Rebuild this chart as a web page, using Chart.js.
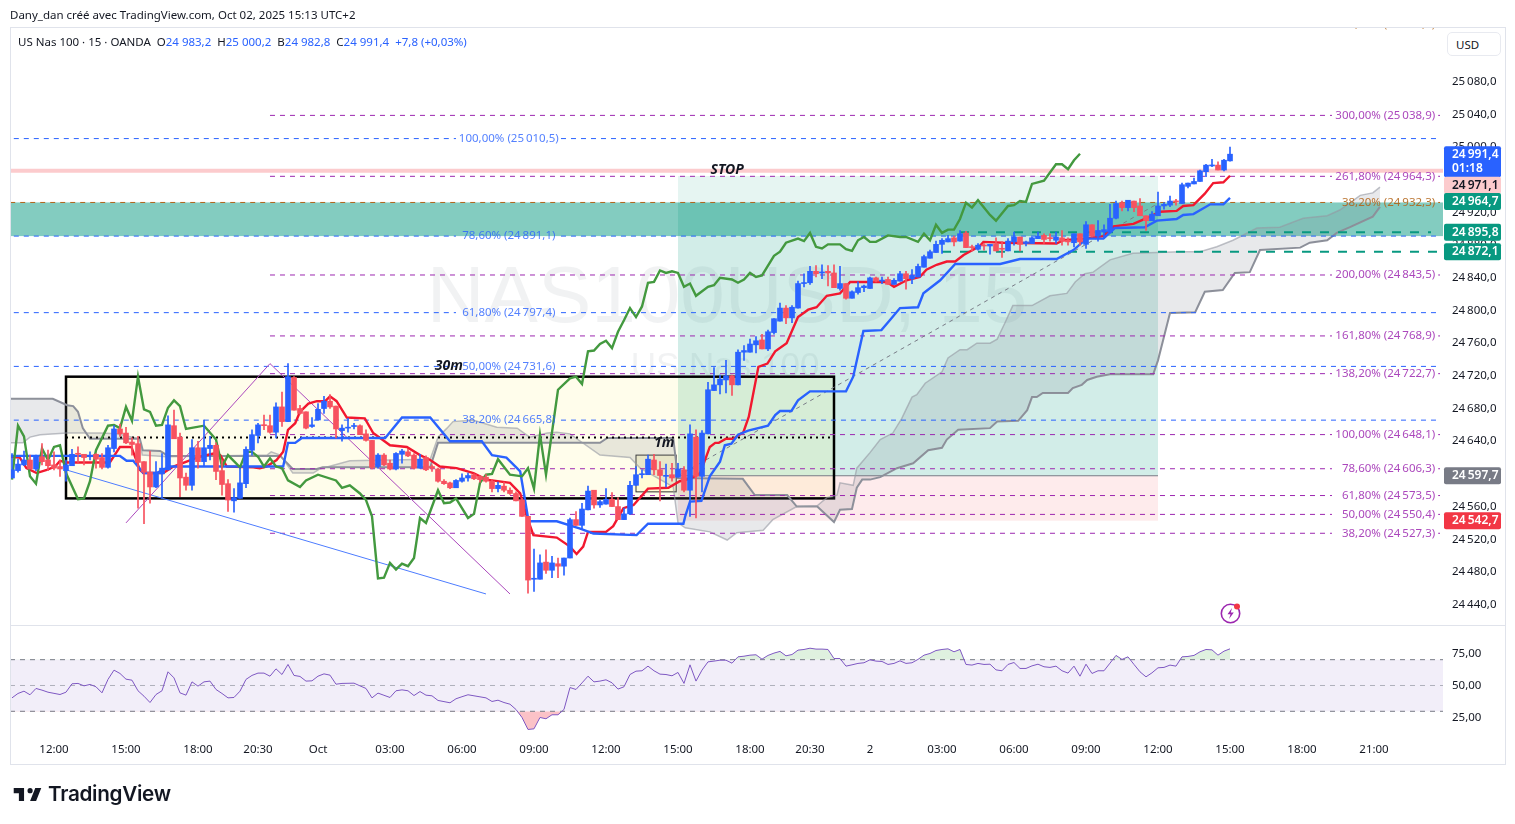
<!DOCTYPE html>
<html>
<head>
<meta charset="utf-8">
<title>US Nas 100</title>
<script src="https://cdn.jsdelivr.net/npm/chart.js@4/dist/chart.umd.min.js"></script>
<style>
body { margin: 0; background: #fff; font-family: "Noto Sans", sans-serif; color: #131722; }
#page { position: relative; width: 1515px; height: 824px; overflow: hidden; }
canvas { position: absolute; left: 0; }
#frame { position: absolute; left: 10px; top: 27px; width: 1494px; height: 736px; border: 1px solid #e0e3eb; }
#divider { position: absolute; left: 10px; top: 625px; width: 1495px; height: 1px; background: #e0e3eb; }
.txt { position: absolute; white-space: nowrap; font-size: 11.5px; }
.blue { color: #2962ff; }
#usd { position: absolute; left: 1447px; top: 32px; width: 54px; height: 24px; border: 1px solid #e8eaf0; border-radius: 5px; box-sizing: border-box; font-size: 11.5px; line-height: 23px; padding-left: 8px; background: #fff; }
#brand { position: absolute; left: 48px; top: 781px; font: 600 20.7px Inter, sans-serif; color: #131722; letter-spacing: -0.3px; }
</style>
</head>
<body>
<div id="page">
  <canvas id="main" width="1515" height="625" style="top:0"></canvas>
  <canvas id="rsi" width="1515" height="199" style="top:625px"></canvas>
  <div id="frame"></div>
  <div id="divider"></div>
  <div class="txt" style="left:10px;top:7px">Dany_dan créé avec TradingView.com, Oct 02, 2025 15:13 UTC+2</div>
  <div class="txt" style="left:18px;top:34px">US Nas 100 · 15 · OANDA &nbsp;O<span class="blue">24 983,2</span> &nbsp;H<span class="blue">25 000,2</span> &nbsp;B<span class="blue">24 982,8</span> &nbsp;C<span class="blue">24 991,4</span> &nbsp;<span class="blue">+7,8 (+0,03%)</span></div>
  <div id="usd">USD</div>
  <svg style="position:absolute;left:12px;top:785px" width="31" height="20" viewBox="0 4 36 20"><path fill="#131722" d="M14 6H2v6h6v9h6V6zm14 15h-7l6-15h7l-6 15zm-7-9a3 3 0 1 0 0-6 3 3 0 0 0 0 6z"/></svg>
  <div id="brand">TradingView</div>
  <svg style="position:absolute;left:1219px;top:601px" width="24" height="24" viewBox="0 0 24 24">
    <circle cx="11.5" cy="12.5" r="9.2" fill="none" stroke="#9c27b0" stroke-width="1.6"/>
    <path d="M13 7l-4.5 6.2h3L10 18l4.8-6.4h-3z" fill="#9c27b0"/>
    <circle cx="18" cy="5.5" r="3" fill="#f23645"/>
  </svg>
</div>
<script>
// 15 min candles, index 0 = first bar on the left
const opens = [
  24595,24604,24611,24617,24606,24621,24617,24611,24609,24604,
  24610,24625,24624,24621,24624,24620,24608,24631,24655,24650,
  24639,24637,24615,24602,24584,24600,24605,24659,24645,24596,
  24586,24632,24615,24631,24635,24604,24588,24567,24570,24588,
  24629,24647,24660,24659,24651,24682,24664,24718,24680,24676,
  24658,24666,24680,24689,24683,24653,24656,24658,24659,24649,
  24641,24609,24623,24613,24606,24624,24627,24623,24607,24620,
  24609,24606,24591,24589,24583,24591,24595,24599,24597,24596,
  24591,24582,24585,24580,24576,24568,24548,24471,24471,24492,
  24482,24490,24487,24497,24544,24537,24556,24580,24562,24563,
  24569,24560,24544,24551,24586,24599,24599,24617,24605,24597,
  24599,24596,24605,24580,24645,24597,24649,24702,24709,24715,
  24720,24709,24749,24749,24758,24764,24753,24773,24787,24803,
  24791,24803,24833,24834,24848,24846,24848,24846,24827,24833,
  24815,24822,24828,24827,24840,24836,24838,24832,24836,24845,
  24839,24841,24853,24864,24871,24881,24884,24889,24885,24895,
  24878,24875,24880,24879,24881,24876,24873,24884,24890,24882,
  24882,24888,24892,24889,24886,24889,24886,24883,24894,24881,
  24905,24891,24896,24896,24913,24932,24926,24934,24928,24916,
  24910,24916,24928,24929,24934,24931,24952,24955,24958,24970,
  24977,24978,24972,24983.2
];
const closes = [
  24605,24612,24617,24606,24622,24615,24610,24607,24606,24611,
  24624,24624,24620,24622,24618,24608,24632,24655,24649,24638,
  24636,24614,24602,24584,24601,24607,24660,24643,24595,24586,
  24632,24615,24632,24635,24603,24587,24568,24571,24589,24630,
  24648,24660,24659,24651,24682,24664,24719,24678,24674,24656,
  24660,24679,24689,24682,24655,24656,24657,24659,24648,24641,
  24608,24623,24611,24606,24625,24628,24622,24607,24618,24605,
  24607,24591,24588,24583,24592,24595,24598,24594,24593,24591,
  24582,24586,24580,24576,24567,24548,24470,24472,24491,24482,
  24491,24487,24497,24544,24537,24557,24579,24562,24566,24569,
  24560,24544,24551,24586,24599,24600,24618,24605,24598,24598,
  24595,24606,24580,24649,24597,24650,24703,24709,24716,24720,
  24709,24749,24751,24759,24763,24753,24774,24790,24803,24791,
  24804,24833,24834,24848,24845,24847,24846,24828,24833,24815,
  24823,24828,24830,24840,24836,24837,24832,24837,24845,24839,
  24843,24854,24866,24872,24881,24886,24888,24884,24894,24877,
  24877,24880,24879,24881,24873,24875,24885,24890,24881,24884,
  24889,24891,24887,24888,24890,24885,24884,24894,24884,24905,
  24891,24898,24899,24913,24931,24926,24935,24926,24916,24910,
  24918,24928,24930,24934,24933,24954,24956,24958,24971,24978,
  24978,24972,24984,24991.4
];
const highs = [
  24625,24618,24628,24623,24623,24637,24629,24627,24617,24617,
  24630,24633,24624,24627,24625,24625,24635,24659,24661,24657,
  24644,24646,24615,24628,24615,24625,24671,24678,24650,24601,
  24642,24640,24666,24646,24638,24617,24593,24582,24607,24633,
  24654,24662,24672,24672,24687,24700,24735,24719,24684,24676,
  24669,24686,24695,24697,24683,24660,24668,24662,24660,24654,
  24641,24625,24625,24617,24626,24630,24630,24625,24624,24622,
  24611,24607,24593,24590,24593,24600,24601,24600,24598,24599,
  24593,24590,24590,24583,24578,24570,24548,24508,24501,24507,
  24499,24497,24497,24546,24554,24564,24585,24580,24568,24582,
  24577,24571,24558,24591,24609,24605,24623,24624,24615,24612,
  24613,24613,24609,24660,24654,24653,24712,24730,24721,24739,
  24721,24752,24757,24765,24768,24771,24776,24790,24809,24806,
  24806,24836,24845,24854,24855,24856,24855,24856,24854,24833,
  24824,24835,24831,24841,24841,24841,24841,24839,24848,24848,
  24850,24857,24868,24874,24885,24888,24892,24891,24898,24897,
  24880,24882,24882,24881,24889,24884,24888,24896,24890,24885,
  24890,24896,24894,24894,24896,24898,24889,24894,24894,24909,
  24905,24910,24905,24930,24934,24934,24935,24934,24937,24916,
  24921,24945,24932,24940,24936,24956,24956,24962,24972,24979,
  24985,24982,24985,25000.2
];
const lows = [
  24595,24602,24610,24606,24604,24611,24604,24605,24597,24591,
  24610,24614,24611,24617,24607,24606,24607,24627,24646,24637,
  24623,24558,24539,24564,24583,24570,24605,24643,24572,24580,
  24580,24607,24610,24617,24593,24574,24554,24553,24570,24583,
  24623,24638,24654,24650,24644,24658,24664,24678,24673,24655,
  24657,24666,24674,24680,24644,24640,24651,24655,24648,24640,
  24606,24607,24610,24605,24605,24613,24621,24606,24607,24604,
  24603,24590,24587,24582,24583,24590,24591,24593,24590,24590,
  24578,24578,24578,24575,24567,24548,24454,24456,24471,24478,
  24473,24473,24476,24497,24537,24533,24556,24558,24559,24563,
  24560,24544,24544,24550,24586,24595,24599,24599,24567,24584,
  24591,24596,24578,24548,24546,24578,24649,24702,24698,24699,
  24696,24709,24739,24749,24748,24753,24751,24771,24787,24784,
  24785,24803,24829,24832,24841,24839,24830,24828,24825,24814,
  24815,24820,24823,24827,24835,24833,24832,24832,24836,24826,
  24833,24841,24853,24864,24871,24870,24884,24879,24885,24877,
  24873,24874,24874,24869,24873,24865,24873,24880,24873,24879,
  24882,24888,24882,24885,24882,24880,24880,24878,24880,24876,
  24890,24885,24888,24896,24912,24922,24922,24921,24916,24898,
  24910,24916,24924,24927,24929,24931,24950,24955,24958,24964,
  24976,24972,24971,24982.8
];

// ichimoku lines, read at the corners only: [bar, price]
const tenkan = [[-0.3,24621],[1.3,24620],[2.4,24607],[4.1,24601],[5.8,24605],[7.2,24609],[8,24616],[9.1,24614],[16.3,24614],[18,24633],[19.9,24633],[21.3,24605],[21.9,24601],[25.2,24601],[26.9,24609],[31.3,24621],[33.6,24625],[34.7,24623],[35.8,24609],[40.2,24608],[41.3,24607],[42.4,24609],[44.1,24617],[45.2,24627],[46,24654],[47.2,24662],[48,24676],[49.4,24686],[50.8,24689],[52.2,24689],[53,24695],[54.1,24689],[55.8,24669],[58.8,24668],[60.2,24650],[63,24635],[65.8,24633],[68,24623],[69.7,24617],[71.3,24609],[74.1,24607],[76.9,24601],[79.1,24593],[83,24589],[84.7,24576],[85.8,24548],[86.9,24525],[90.8,24522],[93,24511],[94.1,24502],[95.2,24511],[96,24529],[99,24529],[100.2,24536],[101.9,24558],[103.6,24562],[106,24582],[109.4,24583],[111.3,24591],[113,24594],[114.7,24601],[116.3,24633],[117.2,24638],[117.8,24638],[119,24643],[120.2,24643],[121.9,24651],[122.8,24670],[124.4,24731],[125.9,24735],[127.2,24750],[129.1,24760],[131,24792],[132.7,24801],[134.1,24804],[135.8,24818],[138,24821],[139.7,24835],[145.8,24835],[147,24829],[149.1,24837],[151.3,24841],[152.4,24850],[154.1,24856],[155.8,24860],[157.2,24860],[158.6,24868],[161.3,24879],[161.9,24884],[165.2,24883],[174.1,24882],[175.2,24886],[178.6,24888],[182,24891],[183.6,24903],[186.9,24906],[189.1,24913],[191.3,24921],[194.1,24922],[195.2,24928],[196.9,24929],[198.8,24943],[200.2,24956],[201.9,24957],[203,24965]];
const kijun = [[-0.3,24622],[18,24622],[19.1,24616],[20.2,24616],[21.9,24601],[24.1,24601],[26.3,24609],[45.2,24609],[46,24638],[47.2,24638],[48.3,24644],[62.2,24644],[65,24669],[69.7,24669],[73,24640],[78.3,24640],[80,24623],[82.4,24620],[84.7,24603],[86.1,24542],[90.8,24542],[94.7,24533],[96.9,24527],[104.1,24525],[106,24539],[111.9,24539],[112.2,24548],[113,24566],[114.9,24567],[116.3,24597],[118,24615],[118.8,24635],[119.9,24637],[121,24648],[122.7,24653],[126,24659],[127.2,24672],[128,24677],[129.9,24677],[131,24690],[133,24701],[139,24701],[140.2,24719],[141.9,24775],[144.9,24776],[146.3,24788],[148,24803],[151,24804],[151.9,24821],[154.7,24837],[157.2,24857],[164.7,24857],[168,24863],[174.1,24863],[176.9,24874],[179.1,24888],[181.9,24888],[183.8,24901],[188.8,24902],[190.8,24910],[194.1,24912],[195.2,24917],[196.9,24918],[199.7,24930],[201.9,24930],[203,24938]];
const chikou = [[0,24593],[1,24659],[2,24646],[3,24597],[4,24588],[5,24631],[6,24617],[7,24633],[8,24635],[9,24601],[11,24569],[12,24570],[13,24591],[14,24629],[16,24659],[17,24660],[18,24656],[19,24682],[20,24665],[21,24719],[22,24679],[23,24676],[24,24659],[25,24660],[26,24681],[27,24690],[28,24683],[29,24655],[32,24659],[34,24642],[35,24609],[36,24623],[38,24608],[39,24627],[40,24627],[41,24621],[42,24609],[43,24619],[44,24609],[45,24607],[46,24592],[48,24584],[49,24592],[51,24599],[54,24592],[55,24583],[56.3,24586],[58,24576],[59,24568],[60,24548],[61,24472],[62,24473],[63,24491],[64,24483],[65,24490],[66,24487],[67,24497],[68,24546],[69,24540],[71,24580],[72,24564],[73,24565],[74,24570],[76,24546],[77,24551],[78,24589],[79,24599],[80,24600],[81,24618],[83,24599],[85,24597],[86,24607],[87,24582],[88,24648],[89,24599],[91,24703],[93,24717],[94,24719],[95,24710],[96,24750],[97,24751],[98,24759],[99,24763],[100,24754],[101,24774],[102,24788],[103,24803],[104,24792],[105,24805],[106,24834],[107,24835],[108,24849],[109,24846],[110,24848],[111,24846],[112,24829],[113,24833],[114,24818],[116,24829],[117,24831],[118,24840],[120,24838],[121,24834],[122,24838],[123,24846],[124,24841],[125,24843],[127,24867],[128,24872],[129,24883],[131,24888],[132,24885],[133,24895],[134,24878],[135,24876],[136,24881],[138,24881],[139,24875],[140,24873],[141,24886],[142,24890],[143,24884],[144,24884],[146,24892],[148,24890],[149,24890],[151,24884],[152,24894],[153,24886],[154,24905],[155,24895],[156,24899],[157,24899],[158,24912],[159,24932],[160,24926],[161,24935],[163,24917],[164,24910],[166,24928],[167,24929],[168,24934],[169,24933],[170,24955],[172,24959],[174,24979],[175,24979],[176,24973],[177,24984],[178,24992]];
const spanA = [[-0.3,24638],[1.8,24638],[3,24645],[4.7,24648],[9.2,24650],[14.7,24650],[17.5,24649],[21.3,24643],[21.7,24623],[25.8,24621],[42.5,24623],[43.2,24627],[44.7,24623],[46.8,24601],[50.2,24601],[51.3,24606],[56.3,24616],[69.7,24618],[71,24645],[72.5,24656],[73.5,24664],[76.8,24666],[80.8,24657],[84.2,24656],[86.3,24645],[89.2,24650],[90.8,24651],[93,24649],[98,24623],[103,24620],[104.7,24607],[110.2,24584],[111,24540],[112.2,24534],[116.3,24529],[119.2,24519],[120.8,24528],[125.2,24531],[126.8,24544],[130.8,24560],[134.2,24561],[135.8,24571],[137.5,24574],[138,24589],[140.2,24586],[140.8,24607],[143,24626],[144.7,24642],[146.8,24650],[148.3,24668],[150,24694],[150.8,24697],[152.2,24711],[155,24725],[156,24742],[158,24752],[159.2,24752],[160.8,24760],[163,24760],[164.2,24765],[165.5,24785],[166.8,24806],[170,24806],[173,24818],[175.8,24821],[177.2,24835],[178.8,24845],[180.2,24847],[183,24862],[186.8,24870],[194.7,24872],[198,24872],[200.8,24878],[203.5,24886],[207.5,24901],[211.3,24902],[215.2,24913],[219.2,24916],[221.3,24923],[224.7,24941],[226.8,24944],[228,24951]];
const spanB = [[-0.3,24692],[6.8,24692],[9.2,24684],[10.2,24683],[11,24676],[11.8,24656],[13,24643],[21.3,24643],[21.8,24629],[24.7,24628],[26,24622],[44.7,24622],[46.8,24606],[50.8,24606],[51.8,24608],[69.7,24608],[71,24638],[98,24638],[99.2,24644],[110.2,24644],[111,24595],[121.8,24594],[123.8,24574],[129.2,24574],[130.8,24560],[134.2,24560],[137,24541],[138,24556],[140,24557],[140.8,24583],[141.7,24593],[143,24593],[144.7,24596],[147.5,24607],[150.2,24613],[152.7,24629],[155,24632],[155.8,24642],[157.7,24654],[163,24656],[164.2,24664],[167.7,24665],[169.2,24678],[170,24694],[170.8,24694],[171.8,24699],[176,24699],[176.8,24705],[178.3,24709],[179.2,24715],[180.8,24719],[183,24722],[190.2,24722],[191,24739],[193,24797],[197.2,24798],[198.8,24823],[201.8,24825],[203.8,24846],[206.3,24847],[208,24874],[214.7,24877],[216.3,24883],[219.2,24886],[220.8,24895],[223,24902],[226.8,24915],[228,24927]];

// fib retracements, levels and prices
const purpleLevels = [300, 261.8, 200, 161.8, 138.2, 100, 78.6, 61.8, 50, 38.2];
const purplePrices = [25038.9, 24964.3, 24843.5, 24768.9, 24722.7, 24648.1, 24606.3, 24573.5, 24550.4, 24527.3];
const blueLevels = [100, 78.6, 61.8, 50, 38.2];
const bluePrices = [25010.5, 24891.1, 24797.4, 24731.6, 24665.8];
const orangeLevels = [38.2];
const orangePrices = [24932.3];

const priceTicks = [24440,24480,24520,24560,24600,24640,24680,24720,24760,24800,24840,24880,24920,24960,25000,25040,25080];
const rsiValues = [
  40.4,43.8,45.6,42.8,47.7,46.4,44.8,43.9,43,44.8,
  51.3,51.6,49.7,50.8,49,44.3,54.7,61.9,59.3,54.9,
  54.1,45.9,41.7,36.8,43,45.9,60.6,55.9,44.3,42.5,
  52.8,49.5,52.8,53.4,46.9,43.8,40.4,40.7,45.6,54.7,
  57.8,59.6,59.6,57.2,62.9,58.5,66.3,57.8,57,53.4,
  53.6,57.2,59,58,51,51.6,51.7,51.8,49.7,47.7,
  40.4,44.1,42.4,40.7,45.9,46.6,45.9,42.2,45.3,42.5,
  42,38.4,37.5,36.6,39.7,41.3,42.8,42,41.2,40.4,
  37.6,38.6,36.8,35.5,31.4,25.2,15.9,16.4,25.2,24.2,
  27.3,27.3,31.4,48.4,46.9,52,57.2,52.8,53.4,54.4,
  52.1,47.2,49,58.5,61.1,61.4,65,61.4,58.8,58.5,
  57.5,60.1,51.6,66,53.4,61.9,68.3,68.9,69.6,69.6,
  67.3,72.2,72.7,73.5,73.8,70.4,73.3,75.1,76.4,73,
  74,77.4,77.9,78.9,78.2,78.2,77.9,70.9,70.9,65,
  66,67.1,67.6,69.9,68.9,68.6,66.3,67.1,69.1,67.1,
  67.6,70.2,73.5,74.8,77.1,77.9,78.4,76.1,77.9,66.3,
  65.8,67.1,66.3,66.5,62.1,61.4,66.3,67.8,63.2,63.2,
  65.2,66.5,64.5,64,65,61.4,59.6,65,57.2,66.5,
  59.3,61.4,61.4,67.3,73.3,70.2,72.2,66.3,60.6,56.7,
  59.8,63.7,64,65.8,65,72.2,72.5,73.3,76.1,77.9,
  77.6,73.5,76.6,78.4
];
const rsiTicks = [25, 50, 75];
const timeTickBars = [7,19,31,41,51,63,75,87,99,111,123,133,143,155,167,179,191,203,215,227];
const timeTickLabels = ['12:00','15:00','18:00','20:30','Oct','03:00','06:00','09:00','12:00','15:00','18:00','20:30','2','03:00','06:00','09:00','12:00','15:00','18:00','21:00'];

const FONT = '"Noto Sans", sans-serif';
const UP = '#2962ff', DOWN = '#f7525f', PURPLE = '#9c27b0', BLUE = '#2962ff', ORANGE = '#b2651a', TEAL = '#089981';
const X_MIN = -0.333, X_MAX = 238.5;
const fibPurpleStart = 43, fibBlueStart = 0.3, fibEnd = 238, gapStart = 220, gapEnd = 237.7;
const noGrid = { display: false, drawTicks: false };

const price = v => {
  const s = v.toFixed(1).replace('.', ',');
  return s.slice(0, 2) + '\u2009' + s.slice(2);
};
const pct = v => v.toFixed(2).replace('.', ',') + '%';
const pts = list => list.map(p => ({ x: p[0], y: p[1] }));
const noPadding = s => { s.paddingTop = s.paddingBottom = s.paddingLeft = s.paddingRight = 0; };
const line = (data, color, width, extra) => Object.assign({
  type: 'line', data, borderColor: color, borderWidth: width, pointRadius: 0,
  tension: 0, fill: false, order: 3
}, extra);
// dashed level, broken where its label sits
const level = (y, from, to, a, b, color) => line([
  { x: from, y }, { x: a, y }, { x: a, y: NaN }, { x: b, y: NaN }, { x: b, y }, { x: to, y }
], color, 1, { borderDash: [5, 5], order: 5 });

const bars = opens.map((o, i) => i);
const candleColor = bars.map(i => closes[i] >= opens[i] ? UP : DOWN);

const datasets = [
  line(pts(spanA), 'rgba(149,152,161,0.6)', 1.5, { fill: '+1', backgroundColor: 'rgba(120,123,134,0.17)', order: 6 }),
  line(pts(spanB), '#8f929c', 2, { order: 6 })
];
purplePrices.forEach(p => datasets.push(level(p, fibPurpleStart, fibEnd, gapStart, gapEnd, PURPLE)));
bluePrices.forEach(p => datasets.push(level(p, fibBlueStart, fibEnd, 74, 91.5, BLUE)));
orangePrices.forEach(p => datasets.push(level(p, -0.3, fibEnd, gapStart, gapEnd, ORANGE)));
datasets.push(
  line(pts([[-0.333, 24971.1], [X_MAX, 24971.1]]), '#fccbcd', 4, { order: 7 }),
  line(pts([[158, 24895.8], [236.5, 24895.8]]), TEAL, 2, { borderDash: [9, 9], order: 4 }),
  line(pts([[155, 24872.1], [X_MAX, 24872.1]]), TEAL, 2, { borderDash: [9, 9], order: 4 }),
  line(pts([[9, 24644.5], [137, 24644.5]]), '#000', 2, { borderDash: [2, 4], order: 4 }),
  line(pts([[111, 24597.7], [191, 24931]]), '#787b86', 1, { borderDash: [4, 4], order: 4 }),
  line(pts([[19, 24540], [43, 24735], [83, 24453]]), '#ab47bc', 1, { order: 4 }),
  line(pts([[9, 24605], [79, 24453]]), '#4d7cff', 1, { order: 4 }),
  line(pts(chikou), '#43993f', 2.4, { order: 3 }),
  line(pts(kijun), '#2962ff', 2.4, { order: 3 }),
  line(pts(tenkan), '#f2182f', 2.4, { order: 3 }),
  { type: 'bar', data: bars.map(i => ({ x: i, y: [lows[i], highs[i]] })), backgroundColor: candleColor, barThickness: 1, order: 2 },
  { type: 'bar', data: bars.map(i => ({ x: i, y: [Math.min(opens[i], closes[i]), Math.max(opens[i], closes[i])] })), backgroundColor: candleColor, barThickness: 5, minBarLength: 1, order: 1 }
);

// shaded zones: [from bar, to bar, price a, price b, colour]
const zones = [
  [111, 191, 24964.7, 24932.3, 'rgba(8,153,129,0.10)'],
  [111, 191, 24932.3, 24597.7, 'rgba(8,153,129,0.18)'],
  [111, 191, 24597.7, 24542.7, 'rgba(242,54,69,0.10)'],
  [9, 137, 24719, 24570, 'rgba(255,235,59,0.10)'],
  [104, 110.7, 24623, 24578, 'rgba(255,235,59,0.12)'],
  [X_MIN, X_MAX, 24932.3, 24891.1, 'rgba(8,153,129,0.5)']
];
// outlined boxes: [from bar, to bar, price a, price b, colour, width]
const boxes = [
  [9, 137, 24719, 24570, '#000', 2.5],
  [104, 110.7, 24623, 24578, '#333', 1]
];
const notes = [
  [72.8, 24732.5, '30m', '#131722', 'italic bold 14px ' + FONT, 'center'],
  [108.7, 24638, '1m', '#131722', 'italic bold 14px ' + FONT, 'center'],
  [119.2, 24972, 'STOP', '#131722', 'italic bold 14px ' + FONT, 'center']
];
// axis tags: price, text, background, text colour, pixel shift to avoid overlap
const tags = [
  [24971.1, '24\u2009971,1', '#fccbcd', '#131722', 14.5],
  [24964.7, '24\u2009964,7', TEAL, '#fff', 25.5],
  [24895.8, '24\u2009895,8', TEAL, '#fff', 0],
  [24872.1, '24\u2009872,1', TEAL, '#fff', 0],
  [24597.7, '24\u2009597,7', '#787b86', '#fff', 0],
  [24542.7, '24\u2009542,7', '#f23645', '#fff', 0]
];

const mainPlugin = {
  id: 'mainPlugin',
  beforeDatasetsDraw(chart) {
    const { ctx, scales: { x, y }, chartArea: a } = chart;
    ctx.save();
    ctx.textAlign = 'center';
    ctx.textBaseline = 'middle';
    ctx.fillStyle = 'rgba(120,123,134,0.10)';
    ctx.font = '80px "Liberation Sans"';
    ctx.fillText('NAS100USD, 15', 727, 300);
    ctx.font = '35px "Liberation Sans"';
    ctx.fillText('US Nas 100', 725, 367);
    zones.forEach(z => {
      ctx.fillStyle = z[4];
      ctx.fillRect(x.getPixelForValue(z[0]), y.getPixelForValue(z[2]), x.getPixelForValue(z[1]) - x.getPixelForValue(z[0]), y.getPixelForValue(z[3]) - y.getPixelForValue(z[2]));
    });
    ctx.strokeStyle = '#787b86';
    ctx.lineWidth = 1;
    ctx.beginPath();
    ctx.moveTo(x.getPixelForValue(111), y.getPixelForValue(24597.7));
    ctx.lineTo(x.getPixelForValue(191), y.getPixelForValue(24597.7));
    ctx.stroke();
    boxes.forEach(b => {
      ctx.strokeStyle = b[4];
      ctx.lineWidth = b[5];
      ctx.strokeRect(x.getPixelForValue(b[0]), y.getPixelForValue(b[2]), x.getPixelForValue(b[1]) - x.getPixelForValue(b[0]), y.getPixelForValue(b[3]) - y.getPixelForValue(b[2]));
    });
    ctx.restore();
  },
  afterDatasetsDraw(chart) {
    const { ctx, scales: { x, y }, chartArea: a } = chart;
    ctx.save();
    ctx.textBaseline = 'middle';
    ctx.font = '11.5px ' + FONT;
    ctx.textAlign = 'right';
    ctx.fillStyle = 'rgba(156,39,176,0.85)';
    purpleLevels.forEach((l, i) => ctx.fillText(pct(l) + ' (' + price(purplePrices[i]) + ')', x.getPixelForValue(237.2), y.getPixelForValue(purplePrices[i])));
    ctx.fillStyle = 'rgba(178,101,26,0.9)';
    orangeLevels.forEach((l, i) => ctx.fillText(pct(l) + ' (' + price(orangePrices[i]) + ')', x.getPixelForValue(237.2), y.getPixelForValue(orangePrices[i])));
    ctx.textAlign = 'center';
    ctx.fillStyle = 'rgba(41,98,255,0.8)';
    blueLevels.forEach((l, i) => ctx.fillText(pct(l) + ' (' + price(bluePrices[i]) + ')', x.getPixelForValue(82.8), y.getPixelForValue(bluePrices[i])));
    notes.forEach(n => {
      ctx.font = n[4];
      ctx.fillStyle = n[3];
      ctx.textAlign = n[5];
      ctx.fillText(n[2], x.getPixelForValue(n[0]), y.getPixelForValue(n[1]));
    });
    // level label cut by the top of the pane
    ctx.beginPath();
    ctx.rect(a.left, a.top, a.width, a.height);
    ctx.clip();
    ctx.font = '11.5px ' + FONT;
    ctx.textAlign = 'right';
    ctx.fillStyle = 'rgba(178,101,26,0.8)';
    ctx.fillText(pct(50) + ' (25\u2009150,2)', x.getPixelForValue(237.2), y.getPixelForValue(25150.2));
    ctx.restore();
  },
  afterDraw(chart) {
    const { ctx, scales: { y } } = chart;
    ctx.save();
    ctx.textBaseline = 'middle';
    ctx.textAlign = 'left';
    ctx.font = '600 12px ' + FONT;
    const pill = (top, h, bg) => {
      ctx.fillStyle = bg;
      ctx.beginPath();
      ctx.roundRect(1444, top, 57, h, 2);
      ctx.fill();
    };
    const last = y.getPixelForValue(24991.4);
    pill(last - 8, 31, UP);
    ctx.fillStyle = '#fff';
    ctx.fillText('24\u2009991,4', 1452, last);
    ctx.fillText('01:18', 1452, last + 14);
    tags.forEach(t => {
      const c = y.getPixelForValue(t[0]) + t[4];
      pill(c - 8.5, 17, t[2]);
      ctx.fillStyle = t[3];
      ctx.fillText(t[1], 1452, c);
    });
    ctx.restore();
  }
};

new Chart(document.getElementById('main'), {
  data: { datasets },
  plugins: [mainPlugin],
  options: {
    responsive: false, animation: false, events: [],
    layout: { padding: { left: 10, right: 10, top: 27, bottom: 0 } },
    datasets: { bar: { grouped: false } },
    plugins: { legend: { display: false }, tooltip: { enabled: false } },
    scales: {
      x: { type: 'linear', min: X_MIN, max: X_MAX, display: false, offset: false },
      y: {
        position: 'right', min: 24415, max: 25147.1,
        grid: noGrid, border: { display: false },
        afterFit: s => { s.width = 62; noPadding(s); },
        afterBuildTicks: s => { s.ticks = priceTicks.map(value => ({ value })); },
        ticks: { color: '#131722', padding: 9, font: { family: FONT, size: 11.5 }, autoSkip: false, callback: v => price(v) }
      }
    }
  }
});

const rsiPlugin = {
  id: 'rsiPlugin',
  beforeDatasetsDraw(chart) {
    const { ctx, scales: { y }, chartArea: a } = chart;
    ctx.save();
    ctx.fillStyle = 'rgba(126,87,194,0.1)';
    ctx.fillRect(a.left, y.getPixelForValue(70), a.width, y.getPixelForValue(30) - y.getPixelForValue(70));
    ctx.restore();
  }
};
const rsiPts = rsiValues.map((v, i) => ({ x: i, y: v }));

new Chart(document.getElementById('rsi'), {
  data: {
    datasets: [
      line(rsiPts, 'rgba(0,0,0,0)', 0, { fill: { target: { value: 70 }, above: 'rgba(76,175,80,0.18)', below: 'rgba(0,0,0,0)' }, order: 3 }),
      line(rsiPts, 'rgba(0,0,0,0)', 0, { fill: { target: { value: 30 }, above: 'rgba(0,0,0,0)', below: 'rgba(242,54,69,0.3)' }, order: 3 }),
      line(pts([[X_MIN, 70], [X_MAX, 70]]), '#787b86', 1, { borderDash: [5, 5], order: 2 }),
      line(pts([[X_MIN, 50], [X_MAX, 50]]), 'rgba(120,123,134,0.55)', 1, { borderDash: [5, 5], order: 2 }),
      line(pts([[X_MIN, 30], [X_MAX, 30]]), '#787b86', 1, { borderDash: [5, 5], order: 2 }),
      line(rsiPts, '#7e57c2', 1, { order: 1 })
    ]
  },
  plugins: [rsiPlugin],
  options: {
    responsive: false, animation: false, events: [],
    layout: { padding: { left: 10, right: 10, top: 1, bottom: 60 } },
    plugins: { legend: { display: false }, tooltip: { enabled: false } },
    scales: {
      x: {
        type: 'linear', min: X_MIN, max: X_MAX,
        grid: noGrid, border: { display: false },
        afterFit: s => { s.height = 26; noPadding(s); },
        afterBuildTicks: s => { s.ticks = timeTickBars.map(value => ({ value })); },
        ticks: {
          color: '#131722', padding: 5, maxRotation: 0, autoSkip: false,
          font: { family: FONT, size: 11.5 },
          callback: (v, i) => timeTickLabels[i]
        }
      },
      y: {
        position: 'right', min: 9.3, max: 96.1,
        grid: noGrid, border: { display: false },
        afterFit: s => { s.width = 62; noPadding(s); },
        afterBuildTicks: s => { s.ticks = rsiTicks.map(value => ({ value })); },
        ticks: { color: '#131722', padding: 9, font: { family: FONT, size: 11.5 }, callback: v => v.toFixed(2).replace('.', ',') }
      }
    }
  }
});
</script>
</body>
</html>
